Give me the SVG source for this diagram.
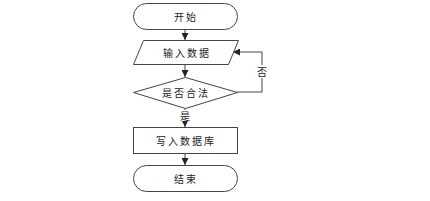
<svg xmlns="http://www.w3.org/2000/svg" width="430" height="201" viewBox="0 0 430 201">
<style>
.s{fill:#fff;stroke:#444;stroke-width:1}
.t{font-family:"Noto Sans CJK SC","Liberation Serif",serif;font-size:10px;fill:#222;text-anchor:middle;dominant-baseline:central;letter-spacing:2px}
.c{fill:none;stroke:#444;stroke-width:1}
.l{font-family:"Noto Sans CJK SC","Liberation Serif",serif;font-size:10px;fill:#222;text-anchor:middle;dominant-baseline:central}
</style>
<defs>
<marker id="a" viewBox="0 0 10 10" refX="10" refY="5" markerWidth="7" markerHeight="7" markerUnits="userSpaceOnUse" orient="auto">
<path d="M0,0L10,5L0,10z" fill="#222"/>
</marker>
</defs>
<rect width="430" height="201" fill="#fff"/>
<g id="connectors">
<line class="c" x1="185" y1="30" x2="185" y2="40" marker-end="url(#a)"/>
<line class="c" x1="185" y1="65" x2="185" y2="77" marker-end="url(#a)"/>
<polyline class="c" points="237,92 262,92 262,52 233,52" marker-end="url(#a)"/>
<line class="c" x1="185" y1="108" x2="185" y2="127" marker-end="url(#a)"/>
<line class="c" x1="185" y1="154" x2="185" y2="165" marker-end="url(#a)"/>
<rect x="256" y="65" width="12" height="13" fill="#fff"/>
<text class="l" x="262" y="71.5">否</text>
<rect x="180" y="110" width="10" height="11" fill="#fff"/>
<text class="l" x="185" y="115.5">是</text>
</g>
<g id="start">
<rect class="s" x="133.5" y="3.5" width="104" height="26" rx="13"/>
<text class="t" x="186" y="16.5">开始</text>
</g>
<g id="input">
<polygon class="s" points="143.5,40.5 238.5,40.5 228.5,64.5 133.5,64.5"/>
<text class="t" x="187" y="52.5">输入数据</text>
</g>
<g id="check">
<polygon class="s" points="185.5,77.5 237.5,92.5 185.5,108.5 133.5,92.5"/>
<text class="t" x="186" y="92.5">是否合法</text>
</g>
<g id="write">
<rect class="s" x="133.5" y="127.5" width="104" height="26"/>
<text class="t" x="186" y="140.5">写入数据库</text>
</g>
<g id="end">
<rect class="s" x="133.5" y="165.5" width="104" height="26" rx="13"/>
<text class="t" x="186" y="178.5">结束</text>
</g>
</svg>
